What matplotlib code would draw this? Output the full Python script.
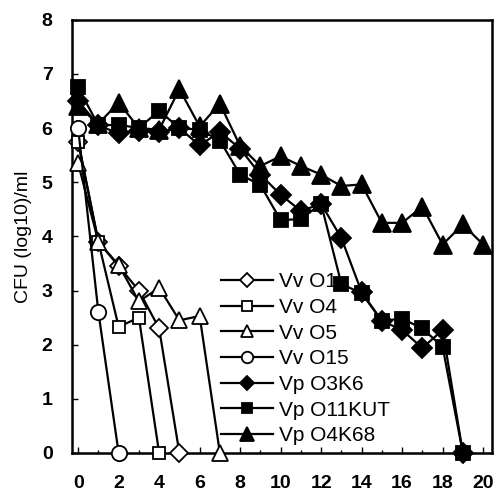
import matplotlib.pyplot as plt
from matplotlib.ticker import MultipleLocator

plt.rcParams['font.family'] = ['Liberation Sans', 'DejaVu Sans']

# survival counts, log10 CFU/ml per sampling point
labels = ["Vv O1", "Vv O4", "Vv O5", "Vv O15", "Vp O3K6", "Vp O11KUT", "Vp O4K68"]
x_o1 = [0, 1, 2, 3, 4, 5]
y_o1 = [5.75, 3.9, 3.45, 3.0, 2.3, 0]
x_o4 = [0, 1, 2, 3, 4]
y_o4 = [5.75, 3.9, 2.33, 2.5, 0]
x_o5 = [0, 1, 2, 3, 4, 5, 6, 7]
y_o5 = [5.35, 3.9, 3.47, 2.8, 3.05, 2.45, 2.53, 0]
x_o15 = [0, 1, 2]
y_o15 = [6.0, 2.6, 0]
x_vp = list(range(20))
y_o3k6 = [6.5, 6.05, 5.9, 5.95, 5.93, 6.0, 5.68, 5.93, 5.62, 5.14, 4.77, 4.47,
          4.6, 3.97, 2.97, 2.44, 2.27, 1.94, 2.27, 0]
y_o11kut = [6.75, 6.05, 6.06, 6.0, 6.32, 6.0, 5.97, 5.77, 5.14, 4.95, 4.3, 4.32,
            4.6, 3.12, 2.95, 2.44, 2.48, 2.3, 1.96, 0]
x_o4k68 = list(range(21))
y_o4k68 = [6.4, 6.08, 6.47, 6.0, 5.97, 6.72, 6.03, 6.45, 5.67, 5.3, 5.48, 5.3,
           5.14, 4.93, 4.96, 4.25, 4.25, 4.55, 3.85, 4.22, 3.85]

fig = plt.figure(figsize=(4.97, 4.94), dpi=100)
ax = fig.add_axes([0.145, 0.083, 0.845, 0.877])

series = [
    (x_o1, y_o1, "D", "white", 9),
    (x_o4, y_o4, "s", "white", 9),
    (x_o5, y_o5, "^", "white", 12),
    (x_o15, y_o15, "o", "white", 11),
    (x_vp, y_o3k6, "D", "black", 10),
    (x_vp, y_o11kut, "s", "black", 10),
    (x_o4k68, y_o4k68, "^", "black", 13),
]
for (xs, ys, m, fc, ms), lab in zip(series, labels):
    ax.plot(xs, ys, color="black", lw=1.6, marker=m, markersize=ms,
            markerfacecolor=fc, markeredgecolor="black", markeredgewidth=1.3,
            label=lab, clip_on=False, zorder=3)

ax.set_xlim(-0.3, 20.44)
ax.set_ylim(0, 8)
ax.xaxis.set_major_locator(MultipleLocator(2))
ax.xaxis.set_minor_locator(MultipleLocator(1))
ax.yaxis.set_major_locator(MultipleLocator(1))
ax.tick_params(which="both", direction="in", width=1, labelsize=14)
ax.tick_params(which="major", length=4)
ax.tick_params(which="minor", length=2)
ax.tick_params(axis="x", pad=16)
ax.tick_params(axis="y", pad=14)
for t in ax.get_xticklabels() + ax.get_yticklabels():
    t.set_fontweight("bold")
for s in ax.spines.values():
    s.set_linewidth(1.8)

ax.set_ylabel("CFU (log10)/ml", fontsize=14, labelpad=7)

ax.legend(loc="lower left", bbox_to_anchor=(0.345, 0.008), frameon=False,
          fontsize=15, handlelength=2.5, handletextpad=0.3, labelspacing=0.32,
          borderaxespad=0, borderpad=0.2, markerscale=0.75)

fig.savefig("out.png", dpi=100)
